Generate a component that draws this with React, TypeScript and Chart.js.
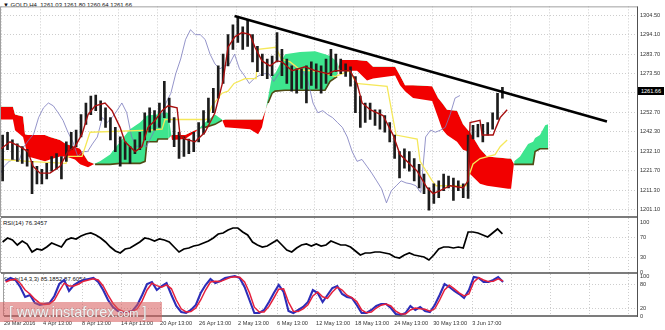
import React, { useEffect, useRef } from 'react';
import { Chart, registerables } from 'chart.js';

Chart.register(...registerables);

const FONT = "'Liberation Sans', Arial, sans-serif";

// ---------------- data ----------------
const xLabels = ['29 Mar 2016', '4 Apr 13:00', '8 Apr 13:00', '14 Apr 13:00', '20 Apr 13:00', '26 Apr 13:00', '2 May 13:00', '6 May 13:00', '12 May 13:00', '18 May 13:00', '24 May 13:00', '30 May 13:00', '3 Jun 17:00'];
const priceTicks = [1304.5, 1294.1, 1283.7, 1273.5, 1263.1, 1252.7, 1242.3, 1232.1, 1221.7, 1211.3, 1201.1];
const rsiTicks = [100, 70, 30, 0];
const rsiLevels = [70, 30];
const stochTicks = [100, 80, 20, 0];
const stochLevels = [80, 20];

// H4 candles, grouped by 3 bars (high / low / close of each group)
const highs = [
  1240.6, 1242.1, 1238.0, 1235.9, 1234.4, 1232.8, 1226.6, 1224.0, 1222.4, 1225.5,
  1229.2, 1230.7, 1229.2, 1237.0, 1242.1, 1243.2, 1251.5, 1257.7, 1261.4, 1261.9,
  1258.8, 1255.1, 1249.9, 1244.7, 1239.6, 1237.0, 1234.4, 1238.0, 1242.1, 1252.5,
  1255.1, 1253.6, 1257.7, 1269.2, 1260.3, 1249.9, 1242.1, 1239.6, 1238.5, 1242.1,
  1247.3, 1253.6, 1260.3, 1265.5, 1277.5, 1283.7, 1294.1, 1299.3, 1303.5, 1298.3,
  1301.9, 1294.1, 1287.9, 1283.7, 1281.1, 1282.7, 1295.2, 1286.3, 1281.1, 1277.5,
  1275.9, 1275.9, 1277.5, 1279.6, 1278.5, 1277.5, 1281.1, 1286.3, 1283.7, 1281.1,
  1278.5, 1277.0, 1271.8, 1261.4, 1257.7, 1257.7, 1254.1, 1254.1, 1251.0, 1247.3,
  1240.6, 1231.8, 1233.3, 1231.8, 1228.1, 1225.0, 1219.8, 1212.5, 1214.6, 1216.2,
  1219.8, 1218.8, 1217.7, 1216.2, 1214.6, 1240.6, 1245.8, 1246.3, 1246.3, 1247.3,
  1252.5, 1262.9, 1266.1,
];
const lows = [
  1216.2, 1232.8, 1227.6, 1226.6, 1225.5, 1224.0, 1209.4, 1214.6, 1214.6, 1217.2,
  1221.4, 1222.4, 1217.2, 1226.6, 1232.8, 1234.4, 1239.6, 1246.3, 1251.5, 1253.6,
  1248.4, 1244.7, 1238.0, 1231.8, 1224.0, 1227.6, 1225.5, 1230.7, 1232.8, 1238.0,
  1242.1, 1243.2, 1244.7, 1249.9, 1247.3, 1234.4, 1228.1, 1229.2, 1230.7, 1231.8,
  1237.0, 1241.1, 1247.3, 1252.5, 1260.3, 1268.1, 1277.5, 1286.3, 1290.0, 1286.3,
  1287.9, 1279.6, 1274.4, 1272.3, 1270.7, 1272.3, 1279.6, 1272.3, 1268.1, 1264.0,
  1262.9, 1265.5, 1257.7, 1267.1, 1265.5, 1262.9, 1268.1, 1272.3, 1274.4, 1273.3,
  1271.8, 1266.6, 1252.5, 1244.7, 1247.3, 1248.9, 1245.8, 1243.7, 1242.1, 1237.0,
  1228.1, 1217.7, 1222.9, 1221.4, 1216.2, 1212.5, 1209.4, 1200.6, 1204.2, 1207.3,
  1211.0, 1212.5, 1205.8, 1211.0, 1207.3, 1206.8, 1238.5, 1239.6, 1237.0, 1240.6,
  1243.7, 1248.9, 1260.3,
];
const closes = [
  1237.0, 1238.0, 1231.8, 1232.8, 1229.2, 1226.6, 1216.2, 1220.3, 1218.8, 1224.0,
  1226.6, 1227.6, 1226.6, 1234.4, 1238.0, 1241.1, 1249.9, 1255.1, 1257.7, 1256.2,
  1252.5, 1248.4, 1242.1, 1237.0, 1229.2, 1231.8, 1231.8, 1235.9, 1239.6, 1249.9,
  1247.3, 1249.9, 1253.6, 1257.7, 1252.5, 1239.6, 1234.4, 1235.4, 1234.4, 1239.6,
  1244.7, 1249.9, 1257.7, 1262.9, 1273.3, 1281.1, 1291.5, 1296.7, 1294.1, 1294.1,
  1291.5, 1283.7, 1278.5, 1275.9, 1277.5, 1278.5, 1283.7, 1275.9, 1272.3, 1268.1,
  1270.7, 1272.3, 1273.3, 1273.3, 1269.2, 1273.3, 1275.9, 1278.5, 1277.5, 1275.9,
  1274.4, 1269.2, 1257.7, 1252.5, 1253.6, 1251.5, 1249.9, 1247.3, 1244.7, 1239.6,
  1231.8, 1226.6, 1227.6, 1224.0, 1220.3, 1216.2, 1212.0, 1204.5, 1211.0, 1213.6,
  1216.2, 1215.1, 1214.6, 1213.6, 1210.0, 1239.6, 1243.2, 1242.1, 1243.2, 1244.7,
  1251.5, 1260.3, 1261.66,
];

// Ichimoku lines: [bar index, price]
const tenkan = [
  [0, 1233.3], [5.5, 1237.0], [11.6, 1234.4], [16.5, 1231.8], [19.6, 1224.0], [23.9, 1220.3], [30, 1220.3],
  [36.1, 1224.0], [41, 1231.8], [45.3, 1234.4], [49.6, 1241.1], [53.3, 1251.5], [57.6, 1256.2], [63.7, 1257.7],
  [68, 1253.6], [72.9, 1244.7], [75.9, 1237.0], [82.1, 1231.8], [86.3, 1234.4], [90, 1244.7], [94.3, 1248.4],
  [98.6, 1253.6], [102.3, 1256.2], [107.8, 1255.1], [109.6, 1240.6], [112.7, 1238.5], [118.8, 1237.0],
  [124.9, 1242.1], [131, 1252.5], [136, 1269.7], [139, 1287.4], [143.3, 1293.1], [147.6, 1295.2], [152.5, 1294.1],
  [155.5, 1287.4], [159.8, 1280.1], [164.7, 1277.5], [169, 1280.1], [172.1, 1279.6], [178.2, 1274.9],
  [186.2, 1277.0], [192.3, 1274.9], [200.2, 1273.3], [204.5, 1274.9], [213.7, 1274.9], [218, 1268.1],
  [221.1, 1257.7], [226, 1254.1], [233.9, 1251.0], [240.1, 1240.6], [244.3, 1230.2], [250.5, 1225.0],
  [254.8, 1221.4], [260.9, 1212.5], [264.6, 1209.4], [268.8, 1211.0], [275, 1213.6], [282.9, 1212.5],
  [286, 1216.2], [287.2, 1247.3], [293.3, 1248.4], [294.6, 1240.6], [301.3, 1240.6], [303.1, 1244.7],
  [305.6, 1249.9], [309.9, 1254.1],
];
const kijun = [
  [0, 1227.6], [16.5, 1226.6], [39.8, 1225.5], [41, 1229.2], [49.6, 1229.2], [52, 1235.4], [54.5, 1242.1],
  [91.2, 1243.2], [98.6, 1243.7], [100.4, 1248.9], [126.1, 1248.9], [129.2, 1256.2], [135.3, 1262.9],
  [139, 1264.0], [142.7, 1268.1], [149.4, 1270.7], [156.2, 1270.7], [157.4, 1286.3], [168.4, 1287.4],
  [171.5, 1281.1], [177, 1279.6], [183.1, 1275.4], [195.4, 1274.4], [204.5, 1271.8], [213.7, 1274.9],
  [217.4, 1268.1], [236.4, 1266.6], [241.9, 1240.6], [254.8, 1238.5], [256.6, 1226.6], [264, 1216.2],
  [266.4, 1213.6], [284.8, 1213.6], [286, 1217.7], [289, 1225.2], [293.3, 1228.1], [302.5, 1230.2],
  [305.6, 1234.4], [309.9, 1238.0],
];
// cloud: [bar index, Senkou span B, Senkou span A]
const cloud = [
  [0, 1255.7, 1248.9], [7.3, 1255.7, 1248.9], [8.6, 1251.5, 1243.2], [13.5, 1250.5, 1239.6], [14.7, 1241.1, 1235.4],
  [16.5, 1240.6, 1229.2], [26.9, 1240.6, 1226.6], [30, 1239.6, 1227.6], [36.1, 1238.0, 1229.2], [39.8, 1235.9, 1229.2],
  [45.3, 1234.4, 1227.6], [48.4, 1233.3, 1225.0], [53.3, 1226.6, 1223.4], [57.6, 1225.0, 1225.5], [60.6, 1225.0, 1226.6],
  [66.8, 1225.0, 1230.2], [72.9, 1225.5, 1237.0], [79, 1225.5, 1243.7], [85.1, 1225.5, 1247.3], [88.2, 1226.6, 1249.9],
  [89.4, 1237.0, 1251.0], [95.5, 1237.0, 1251.5], [96.1, 1238.5, 1252.5], [102.3, 1238.5, 1252.5], [104.7, 1240.6, 1238.0],
  [112.7, 1240.6, 1238.5], [118.8, 1243.2, 1242.1], [124.9, 1244.7, 1247.3], [131, 1246.3, 1251.5], [135.3, 1248.4, 1248.9],
  [137.2, 1248.9, 1244.7], [152.5, 1248.9, 1243.7], [157.4, 1248.9, 1241.1], [159.8, 1248.9, 1244.7], [163.5, 1257.7, 1260.3],
  [166, 1262.9, 1272.3], [167.8, 1264.0, 1273.3], [173.9, 1264.5, 1283.7], [183.1, 1264.5, 1284.8], [192.3, 1264.5, 1285.3],
  [198.4, 1264.5, 1283.7], [201.5, 1269.2, 1282.7], [205.8, 1271.8, 1279.6], [207.6, 1280.6, 1274.9], [218, 1280.6, 1274.9],
  [224.1, 1280.1, 1269.7], [227.8, 1277.0, 1270.7], [241.3, 1277.0, 1272.3], [244.3, 1272.3, 1267.1], [247.4, 1267.1, 1264.0],
  [252.3, 1267.1, 1260.3], [264, 1266.6, 1258.8], [267.6, 1260.3, 1249.9], [270.1, 1257.7, 1243.7], [273.1, 1254.1, 1240.6],
  [279.2, 1253.6, 1237.0], [282.9, 1246.3, 1232.8], [286, 1243.2, 1231.8], [287.2, 1242.1, 1219.8], [293.3, 1233.3, 1214.6],
  [297.6, 1229.2, 1213.6], [310.5, 1228.1, 1212.0], [312.3, 1228.1, 1212.0], [314.2, 1225.0, 1226.6], [317.8, 1225.0, 1229.2],
  [322.7, 1225.0, 1235.9], [325.8, 1225.0, 1237.0], [327, 1231.8, 1239.0], [330, 1233.3, 1240.6], [333.2, 1233.3, 1245.8],
  [335, 1233.3, 1246.3],
];
const trendLine = [[143, 1304.0], [371, 1247.8]];

const rsi = [
  60, 68, 64, 54, 62, 56, 40, 46, 44, 50, 58, 54, 50, 64, 68, 66, 72, 76, 78, 74,
  68, 60, 50, 42, 38, 46, 48, 54, 60, 68, 66, 62, 66, 64, 60, 50, 40, 46, 48, 52,
  54, 58, 62, 68, 76, 78, 84, 88, 88, 80, 74, 60, 54, 50, 52, 58, 64, 54, 44, 40,
  48, 54, 56, 52, 56, 52, 54, 62, 58, 54, 54, 50, 42, 34, 38, 38, 40, 40, 38, 36,
  30, 28, 34, 38, 34, 32, 30, 24, 34, 46, 50, 50, 48, 50, 48, 80, 80, 78, 74, 70,
  78, 86, 76.35,
];
const stochK = [
  87.5, 95, 90, 72.5, 47.5, 52.5, 32.5, 27.5, 30, 32.5, 50, 80, 90, 62.5, 77.5, 85, 90, 92.5, 95, 85,
  65, 40, 22.5, 12.5, 10, 10, 12.5, 27.5, 52.5, 80, 85, 65, 75, 82.5, 52.5, 25, 10, 7.5, 15, 27.5,
  57.5, 77.5, 92.5, 82.5, 87.5, 95, 97.5, 100, 95, 72.5, 40, 7.5, 7.5, 15, 35, 57.5, 77.5, 60, 12.5, 7.5,
  15, 22.5, 35, 65, 57.5, 35, 52.5, 70, 75, 55, 47.5, 45, 27.5, 7.5, 7.5, 15, 25, 30, 30, 20,
  5, 2.5, 7.5, 25, 15, 22.5, 12.5, 10, 27.5, 52.5, 80, 72.5, 62.5, 55, 45, 65, 97.5, 95, 85, 85,
  90, 97.5, 85.19,
];
const stochD = [
  85, 90, 92, 82, 65, 55, 42, 32, 29, 30, 40, 62, 82, 75, 75, 80, 87, 90, 93, 90,
  75, 52, 32, 18, 12, 10, 11, 18, 38, 65, 82, 76, 72, 78, 68, 40, 18, 10, 11, 20,
  40, 65, 85, 87, 86, 91, 96, 98, 97, 85, 58, 22, 10, 10, 24, 45, 67, 68, 35, 12,
  11, 18, 28, 50, 60, 48, 44, 60, 72, 65, 52, 46, 36, 15, 8, 10, 20, 27, 30, 25,
  12, 5, 5, 15, 20, 18, 17, 12, 18, 40, 65, 77, 68, 58, 50, 55, 85, 96, 90, 86,
  87, 93, 87.61,
];

// ---------------- layout constants ----------------
const BARS_PER_GROUP = 3;
const CHIKOU_SHIFT = 26;
const GRID_STEP = 24;
const X_MAX = 389.4;
const gridTickValues = Array.from({ length: 17 }, (_, k) => k * GRID_STEP);
const GRID = '#cdcdcd';
const groupBar = (g: number) => g * BARS_PER_GROUP + 1;

const framePlugin = {
  id: 'panelFrame',
  afterDraw(chart: any, _a: any, opts: any) {
    const { ctx, chartArea: a } = chart;
    ctx.save();
    ctx.strokeStyle = '#a0a0a0';
    ctx.lineWidth = 1;
    if (opts.top) {
      ctx.beginPath(); ctx.moveTo(a.left, a.top + 0.5); ctx.lineTo(a.right, a.top + 0.5); ctx.stroke();
    }
    ctx.beginPath(); ctx.moveTo(a.left - 0.5, a.top); ctx.lineTo(a.left - 0.5, a.bottom); ctx.stroke();
    ctx.strokeStyle = '#505050';
    ctx.beginPath(); ctx.moveTo(a.right + 0.5, a.top); ctx.lineTo(a.right + 0.5, a.bottom + 1); ctx.stroke();
    ctx.lineWidth = 1.6;
    ctx.beginPath(); ctx.moveTo(a.left, a.bottom); ctx.lineTo(a.right + 1, a.bottom); ctx.stroke();
    ctx.restore();
  },
};

function makeX(showLabels: boolean) {
  return {
    type: 'linear',
    min: 0,
    max: X_MAX,
    offset: false,
    afterBuildTicks: (s: any) => { s.ticks = gridTickValues.map((v) => ({ value: v })); },
    afterFit: (s: any) => { s.height = showLabels ? 14 : 0; },
    grid: { color: GRID, drawTicks: false, offset: false, lineWidth: 1 },
    border: { display: false, dash: [1, 2] },
    ticks: {
      display: showLabels,
      autoSkip: false,
      maxRotation: 0,
      minRotation: 0,
      align: 'start',
      padding: 4,
      color: '#333',
      font: { family: FONT, size: 5.6 },
      callback: (v: number) => xLabels[v / GRID_STEP] ?? '',
    },
  };
}

function makeY(min: number, max: number, ticks: number[], fmt: (v: number) => string, levels: number[] | null) {
  return {
    type: 'linear',
    position: 'right',
    min,
    max,
    afterBuildTicks: (s: any) => { s.ticks = ticks.map((v) => ({ value: v })); },
    afterFit: (s: any) => { s.width = 28; },
    grid: {
      drawTicks: false,
      lineWidth: 1,
      color: (c: any) => (levels === null || levels.includes(c.tick?.value) ? GRID : 'rgba(0,0,0,0)'),
    },
    border: { display: false, dash: [1, 2] },
    ticks: { padding: 3, color: '#333', font: { family: FONT, size: 5.6 }, callback: (v: number) => fmt(v) },
  };
}

const baseOptions = (padding: any, x: any, y: any, frameTop: boolean) => ({
  responsive: false,
  maintainAspectRatio: false,
  animation: false,
  devicePixelRatio: 1,
  events: [],
  layout: { padding },
  plugins: {
    legend: { display: false },
    tooltip: { enabled: false },
    filler: { propagate: false, drawTime: 'beforeDatasetsDraw' },
    panelFrame: { top: frameTop },
  },
  scales: { x, y },
});

const line = (data: any[], color: string, width: number, extra: any = {}) => ({
  type: 'line',
  data,
  borderColor: color,
  borderWidth: width,
  pointRadius: 0,
  tension: 0,
  fill: false,
  ...extra,
});

function mainConfig(): any {
  const spanB = cloud.map((r) => ({ x: r[0], y: r[1] }));
  const spanA = cloud.map((r) => ({ x: r[0], y: r[2] }));
  return {
    type: 'line',
    data: {
      datasets: [
        line(trendLine.map(([x, y]) => ({ x, y })), '#000', 2.6),
        line(tenkan.map(([x, y]) => ({ x, y })), '#a80f0f', 1.4),
        {
          type: 'bar',
          data: highs.map((h, g) => ({ x: groupBar(g), y: [lows[g], h] })),
          backgroundColor: '#1c1c1c',
          borderWidth: 0,
          barThickness: 2,
          grouped: false,
        },
        line(kijun.map(([x, y]) => ({ x, y })), '#f5e85a', 1.3),
        line(closes.map((c, g) => ({ x: groupBar(g) - CHIKOU_SHIFT, y: c })), '#7a7abd', 0.8),
        line(spanA, 'rgba(0,0,0,0)', 1, { fill: { target: 6, above: '#3ee58e', below: '#f20000' } }),
        line(spanB, '#4f4a14', 1.6, {
          segment: {
            borderColor: (c: any) => {
              const i0 = c.p0DataIndex, i1 = c.p1DataIndex;
              return cloud[i0][2] > cloud[i0][1] && cloud[i1][2] > cloud[i1][1] ? '#4f4a14' : 'rgba(0,0,0,0)';
            },
          },
        }),
      ],
    },
    options: baseOptions(
      { left: 1, top: 1, right: 0, bottom: 113 },
      makeX(false),
      makeY(1196.94, 1309.18, priceTicks, (v) => v.toFixed(2), null),
      true,
    ),
    plugins: [framePlugin],
  };
}

function rsiConfig(): any {
  return {
    type: 'line',
    data: { datasets: [line(rsi.map((v, g) => ({ x: groupBar(g), y: v })), '#000', 1.7)] },
    options: baseOptions(
      { left: 1, top: 218, right: 0, bottom: 57 },
      makeX(false),
      makeY(-2, 108, rsiTicks, (v) => String(v), rsiLevels),
      false,
    ),
    plugins: [framePlugin],
  };
}

function stochConfig(): any {
  return {
    type: 'line',
    data: {
      datasets: [
        line(stochD.map((v, g) => ({ x: groupBar(g), y: v })), '#e5203c', 1.5),
        line(stochK.map((v, g) => ({ x: groupBar(g), y: v })), '#2d2db8', 2.1),
      ],
    },
    options: baseOptions(
      { left: 1, top: 274, right: 0, bottom: 0 },
      makeX(true),
      makeY(0, 105, stochTicks, (v) => String(v), stochLevels),
      false,
    ),
    plugins: [framePlugin],
  };
}

const canvasStyle: React.CSSProperties = { position: 'absolute', left: 0, top: 0, width: 665, height: 330 };
const smallText: React.CSSProperties = {
  position: 'absolute', left: 3, fontFamily: FONT, fontSize: 6, lineHeight: '8px', color: '#111', whiteSpace: 'pre',
};

export default function App() {
  const mainRef = useRef<HTMLCanvasElement>(null);
  const rsiRef = useRef<HTMLCanvasElement>(null);
  const stRef = useRef<HTMLCanvasElement>(null);

  useEffect(() => {
    document.body.style.margin = '0';
    const charts = [
      new Chart(mainRef.current as HTMLCanvasElement, mainConfig()),
      new Chart(rsiRef.current as HTMLCanvasElement, rsiConfig()),
      new Chart(stRef.current as HTMLCanvasElement, stochConfig()),
    ];
    return () => charts.forEach((c) => c.destroy());
  }, []);

  return (
    <div style={{ position: 'relative', width: 665, height: 330, overflow: 'hidden', background: '#fff' }}>
      <div style={{ ...smallText, top: 1 }}>{'▼ GOLD,H4  1261.03 1261.80 1260.64 1261.66'}</div>
      <div style={{ ...smallText, top: 219 }}>{'RSI(14) 76.3457'}</div>
      <div style={{ ...smallText, top: 275 }}>{'Stoch(14,3,3) 85.1852 87.6054'}</div>
      <canvas ref={mainRef} width={665} height={330} style={canvasStyle} />
      <canvas ref={rsiRef} width={665} height={330} style={canvasStyle} />
      <canvas ref={stRef} width={665} height={330} style={canvasStyle} />
      <div
        style={{
          position: 'absolute', left: 638, top: 87, width: 26, height: 8, background: '#000', color: '#fff',
          fontFamily: FONT, fontSize: 5.6, lineHeight: '8px', textAlign: 'center',
        }}
      >
        1261.66
      </div>
      <div
        style={{
          position: 'absolute', left: 0, top: 302, width: 162, height: 20, background: 'rgba(215,90,90,0.55)',
          color: '#f2f2f2', fontFamily: FONT, fontSize: 14.5, lineHeight: '20px', paddingLeft: 9, boxSizing: 'border-box',
          textShadow: '0 0 1px #8a8a8a', whiteSpace: 'pre',
        }}
      >
        {'[ www.instaforex'}<span style={{ fontSize: 11 }}>{'.com'}</span>{' ]'}
      </div>
    </div>
  );
}
